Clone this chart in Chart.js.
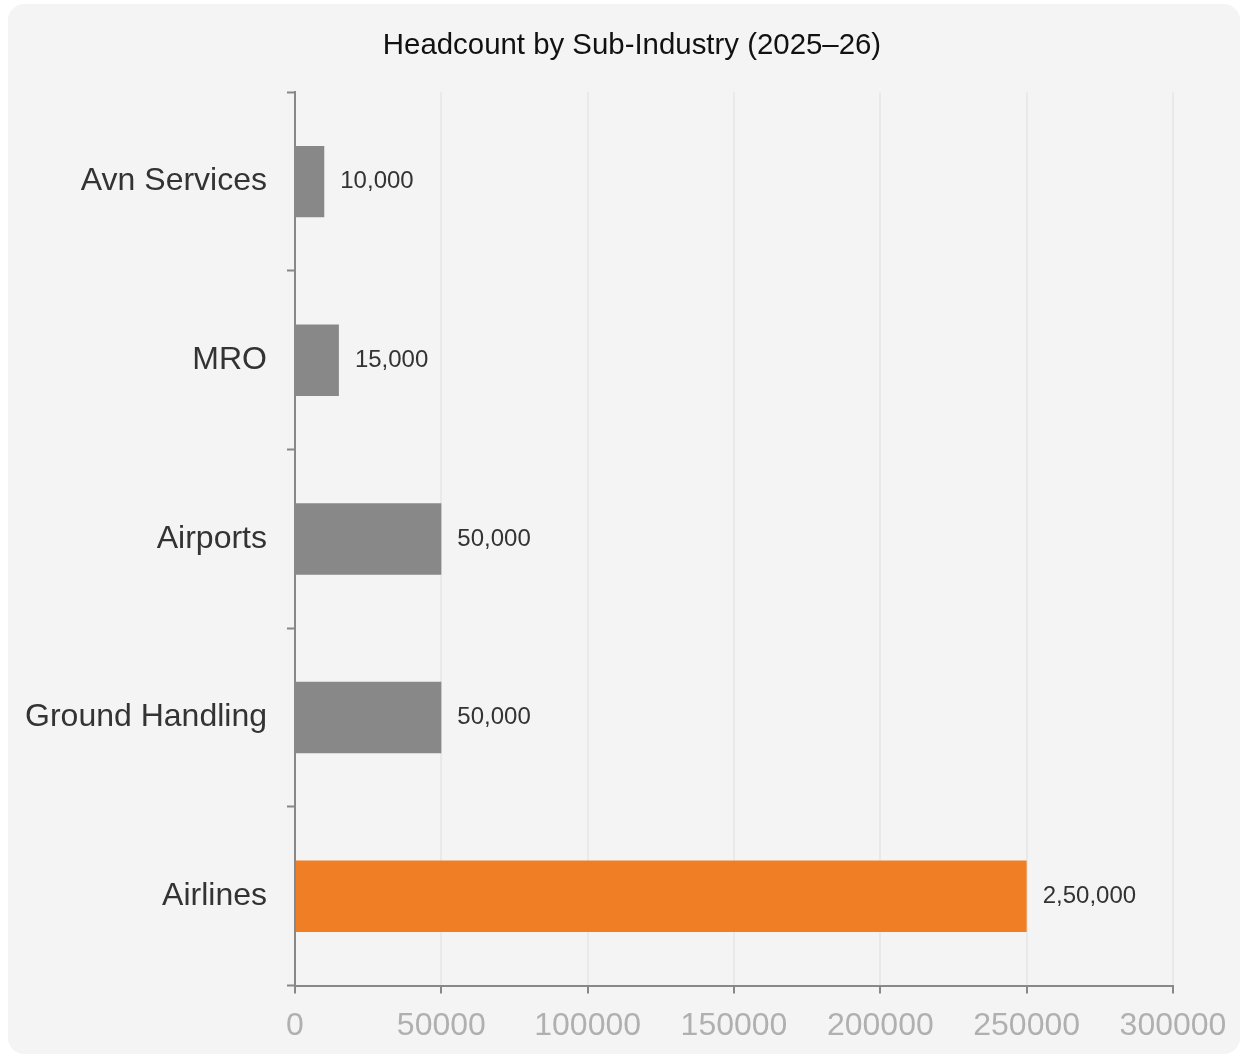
<!DOCTYPE html>
<html>
<head>
<meta charset="utf-8">
<script src="https://cdn.jsdelivr.net/npm/chart.js@4.4.1/dist/chart.umd.min.js"></script>
<style>
  html, body { margin: 0; padding: 0; background: #ffffff; overflow: hidden; }
  #card { position: absolute; left: 8px; top: 4px; width: 1232px; height: 1050px; background: #f4f4f4; border-radius: 16px; }
  #c { position: absolute; left: 0; top: 0; }
</style>
</head>
<body>
<div id="card"></div>
<canvas id="c" width="1241" height="1058"></canvas>
<script>
const categories = ["Avn Services", "MRO", "Airports", "Ground Handling", "Airlines"];
const headcount = [10000, 15000, 50000, 50000, 250000];
const barColors = ["#888888", "#888888", "#888888", "#888888", "#f07e24"];
const xTicks = [0, 50000, 100000, 150000, 200000, 250000, 300000];
const chartTitle = "Headcount by Sub-Industry (2025\u201326)";

const FONT = "'Liberation Sans', Arial, Helvetica, sans-serif";

function indianFormat(n) {
  const s = String(Math.round(n));
  if (s.length <= 3) return s;
  const last3 = s.slice(-3);
  let rest = s.slice(0, -3);
  const parts = [];
  while (rest.length > 2) { parts.unshift(rest.slice(-2)); rest = rest.slice(0, -2); }
  if (rest.length) parts.unshift(rest);
  return parts.join(",") + "," + last3;
}

const valueLabels = {
  id: "valueLabels",
  afterDatasetsDraw(chart) {
    const ctx = chart.ctx;
    const meta = chart.getDatasetMeta(0);
    ctx.save();
    ctx.font = "24px " + FONT;
    ctx.fillStyle = "#333333";
    ctx.textAlign = "left";
    ctx.textBaseline = "middle";
    meta.data.forEach((el, i) => {
      ctx.fillText(indianFormat(headcount[i]), el.x + 16, el.y);
    });
    ctx.restore();
  }
};

new Chart(document.getElementById("c"), {
  type: "bar",
  data: {
    labels: categories,
    datasets: [{
      data: headcount,
      backgroundColor: barColors,
      borderWidth: 0,
      barPercentage: 0.5,
      categoryPercentage: 0.8
    }]
  },
  options: {
    indexAxis: "y",
    responsive: false,
    devicePixelRatio: 1,
    animation: false,
    layout: { padding: { left: 23, right: 0, top: 0, bottom: 0 } },
    plugins: {
      legend: { display: false },
      tooltip: { enabled: false },
      title: {
        display: true,
        text: chartTitle,
        color: "#111111",
        font: { family: FONT, size: 29.4, weight: "normal" },
        padding: { top: 28, bottom: 29 }
      }
    },
    scales: {
      x: {
        min: 0,
        max: 300000,
        afterBuildTicks(scale) { scale.ticks = xTicks.map(v => ({ value: v })); },
        afterFit(scale) { scale.paddingRight = 68; },
        ticks: {
          color: "#b0b0b0",
          font: { family: FONT, size: 32 },
          padding: 13,
          callback: (v) => String(v)
        },
        grid: {
          color: "#e9e9e9",
          lineWidth: 2,
          tickColor: "#888888",
          tickLength: 8,
          tickWidth: 2
        },
        border: { color: "#888888", width: 2 }
      },
      y: {
        afterFit(scale) { scale.width = 272; },
        ticks: {
          color: "#333333",
          font: { family: FONT, size: 32 },
          padding: 20
        },
        grid: {
          drawOnChartArea: false,
          tickColor: "#888888",
          tickLength: 8,
          tickWidth: 2
        },
        border: { color: "#888888", width: 2 }
      }
    }
  },
  plugins: [valueLabels]
});
</script>
</body>
</html>
